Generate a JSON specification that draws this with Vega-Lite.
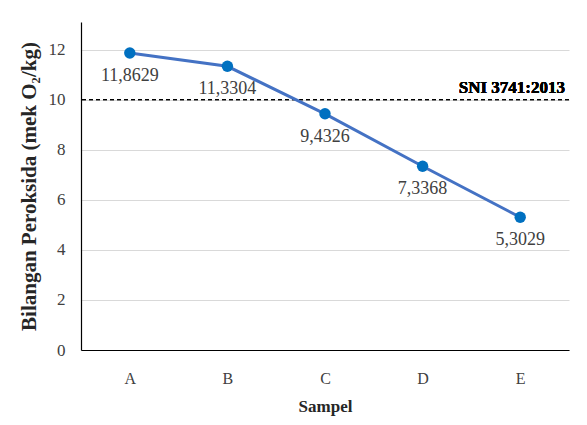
{
  "$schema": "https://vega.github.io/schema/vega-lite/v6.json",
  "width": 488,
  "height": 328,
  "autosize": {"type": "none"},
  "padding": {"left": 81, "top": 22, "right": 18, "bottom": 75},
  "background": "white",
  "config": {
    "view": {"stroke": null},
    "font": "Liberation Serif",
    "text": {"font": "Liberation Serif"}
  },
  "data": {
    "values": [
      {"Sampel": "A", "nilai": 11.8629, "label": "11,8629"},
      {"Sampel": "B", "nilai": 11.3304, "label": "11,3304"},
      {"Sampel": "C", "nilai": 9.4326, "label": "9,4326"},
      {"Sampel": "D", "nilai": 7.3368, "label": "7,3368"},
      {"Sampel": "E", "nilai": 5.3029, "label": "5,3029"}
    ]
  },
  "encoding": {
    "x": {
      "field": "Sampel", "type": "ordinal",
      "scale": {"type": "point", "padding": 0.5},
      "axis": {
        "title": "Sampel", "titleFont": "Liberation Serif", "titleFontSize": 17, "titleFontWeight": "bold",
        "titleColor": "#262626", "titlePadding": 12,
        "labelAngle": 0, "labelFont": "Liberation Serif", "labelFontSize": 16, "labelColor": "#404040",
        "labelPadding": 20, "ticks": false, "domainColor": "#000000", "domainWidth": 1.2, "grid": false
      }
    },
    "y": {
      "field": "nilai", "type": "quantitative",
      "scale": {"domain": [0, 13.1], "nice": false},
      "axis": {
        "title": "Bilangan Peroksida (mek O₂/kg)", "titleFont": "Liberation Serif", "titleFontSize": 21,
        "titleFontWeight": "bold", "titleColor": "#262626", "titlePadding": 9,
        "values": [0, 2, 4, 6, 8, 10, 12], "labelFont": "Liberation Serif", "labelFontSize": 17,
        "labelColor": "#404040", "labelPadding": 16, "ticks": false,
        "domainColor": "#000000", "domainWidth": 1.2, "gridColor": "#d9d9d9", "gridWidth": 1
      }
    }
  },
  "layer": [
    {
      "mark": {"type": "rule", "strokeDash": [4, 3], "color": "#000000", "strokeWidth": 1},
      "encoding": {"y": {"datum": 10}, "x": null}
    },
    {
      "mark": {"type": "text", "text": "SNI 3741:2013", "font": "Liberation Serif", "fontWeight": "bold", "fontSize": 17, "align": "right", "baseline": "bottom", "dy": -3, "color": "#000000", "x": "width", "dx": -4},
      "encoding": {"y": {"datum": 10}, "x": null}
    },
    {
      "mark": {"type": "line", "color": "#4472C4", "strokeWidth": 3}
    },
    {
      "mark": {"type": "point", "filled": true, "color": "#0070C0", "size": 130, "opacity": 1}
    },
    {
      "mark": {"type": "text", "dy": 23, "fontSize": 18, "font": "Liberation Serif", "color": "#404040"},
      "encoding": {"text": {"field": "label"}}
    }
  ]
}
